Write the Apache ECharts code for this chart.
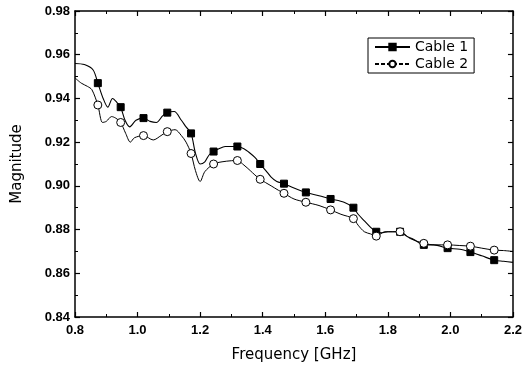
<!DOCTYPE html>
<html>
<head>
<meta charset="utf-8">
<script src="https://cdn.jsdelivr.net/npm/echarts@6/dist/echarts.min.js"></script>
<style>html,body{margin:0;padding:0;background:#fff}#c{width:525px;height:368px}</style>
</head>
<body>
<div id="c"></div>
<script>
const xTicks = [0.8, 1.0, 1.2, 1.4, 1.6, 1.8, 2.0, 2.2];
const yTicks = [0.84, 0.86, 0.88, 0.90, 0.92, 0.94, 0.96, 0.98];
const markerFreq = [0.873, 0.946, 1.019, 1.095, 1.171, 1.243, 1.319, 1.392, 1.468, 1.538, 1.617, 1.69, 1.763, 1.839, 1.915, 1.991, 2.064, 2.14];

const cable1Freq = [0.80,0.83,0.858,0.873,0.89,0.905,0.92,0.935,0.946,0.96,0.975,0.995,1.019,1.04,1.06,1.08,1.095,1.117,1.14,1.155,1.171,1.185,1.20,1.215,1.228,1.243,1.26,1.28,1.30,1.319,1.34,1.355,1.375,1.392,1.41,1.427,1.445,1.468,1.50,1.538,1.58,1.617,1.66,1.69,1.705,1.725,1.745,1.763,1.78,1.80,1.839,1.86,1.883,1.915,1.947,1.991,2.03,2.064,2.10,2.14,2.17,2.20];
const cable1Mag = [0.956,0.9555,0.953,0.947,0.940,0.936,0.940,0.938,0.936,0.930,0.927,0.930,0.931,0.9295,0.929,0.932,0.9335,0.934,0.930,0.927,0.924,0.915,0.910,0.911,0.914,0.9157,0.917,0.918,0.918,0.918,0.917,0.9155,0.913,0.910,0.907,0.904,0.902,0.901,0.899,0.897,0.8955,0.894,0.8925,0.890,0.887,0.884,0.881,0.879,0.8785,0.879,0.879,0.877,0.8755,0.873,0.873,0.8715,0.871,0.8697,0.868,0.866,0.8655,0.865];

const cable2Freq = [0.80,0.82,0.84,0.854,0.873,0.888,0.90,0.917,0.93,0.946,0.962,0.977,0.99,1.019,1.05,1.075,1.095,1.12,1.14,1.155,1.171,1.185,1.20,1.215,1.243,1.27,1.30,1.319,1.34,1.36,1.375,1.392,1.427,1.45,1.468,1.50,1.538,1.58,1.617,1.65,1.69,1.705,1.725,1.745,1.763,1.79,1.839,1.87,1.915,1.95,1.991,2.03,2.064,2.10,2.14,2.17,2.20];
const cable2Mag = [0.9494,0.947,0.9455,0.944,0.937,0.929,0.9295,0.9317,0.931,0.929,0.924,0.920,0.922,0.923,0.921,0.923,0.9248,0.9257,0.923,0.920,0.9148,0.907,0.902,0.9065,0.910,0.911,0.9115,0.9116,0.9095,0.907,0.905,0.903,0.900,0.898,0.8966,0.894,0.8925,0.891,0.889,0.887,0.885,0.882,0.879,0.878,0.877,0.879,0.879,0.876,0.8737,0.873,0.873,0.8727,0.8724,0.8715,0.8706,0.8704,0.870];

function build(freq, mag) {
  return freq.map((f, i) => {
    const isM = markerFreq.some(m => Math.abs(m - f) < 1e-6);
    return isM ? { value: [f, mag[i]] } : { value: [f, mag[i]], symbol: 'none' };
  });
}

const font = 'Liberation Sans, Arial, sans-serif';
const wide = 'DejaVu Sans, sans-serif';
const chart = echarts.init(document.getElementById('c'), null, { renderer: 'canvas' });

const baseX = {
  type: 'value', min: 0.8, max: 2.2, interval: 0.2,
  axisLine: { show: true, onZero: false, lineStyle: { color: '#000', width: 1.5 } },
  axisTick: { show: true, inside: true, length: 5, lineStyle: { color: '#000', width: 1.2 } },
  minorTick: { show: true, splitNumber: 2, length: 3, lineStyle: { color: '#000', width: 1 } },
  splitLine: { show: false }
};
const baseY = {
  type: 'value', min: 0.84, max: 0.98, interval: 0.02,
  axisLine: { show: true, onZero: false, lineStyle: { color: '#000', width: 1.5 } },
  axisTick: { show: true, inside: true, length: 5, lineStyle: { color: '#000', width: 1.2 } },
  minorTick: { show: true, splitNumber: 2, length: 3, lineStyle: { color: '#000', width: 1 } },
  splitLine: { show: false }
};

chart.setOption({
  animation: false,
  backgroundColor: '#fff',
  grid: { left: 75, right: 8, top: 11, bottom: 50, containLabel: false },
  xAxis: [
    Object.assign({}, baseX, {
      position: 'bottom',
      name: 'Frequency [GHz]', nameLocation: 'middle', nameGap: 31,
      nameTextStyle: { fontFamily: wide, fontSize: 15, color: '#000' },
      axisLabel: { show: true, margin: 7, fontFamily: font, fontSize: 13, fontWeight: 'bold', color: '#000',
        formatter: v => v.toFixed(1) }
    }),
    Object.assign({}, baseX, { position: 'top', axisLabel: { show: false } })
  ],
  yAxis: [
    Object.assign({}, baseY, {
      position: 'left',
      name: 'Magnitude', nameLocation: 'middle', nameGap: 50, nameRotate: 90,
      nameTextStyle: { fontFamily: wide, fontSize: 15, color: '#000' },
      axisLabel: { show: true, margin: 5, fontFamily: font, fontSize: 13, fontWeight: 'bold', color: '#000',
        formatter: v => v.toFixed(2) }
    }),
    Object.assign({}, baseY, { position: 'right', axisLabel: { show: false } })
  ],
  legend: {
    orient: 'vertical', left: 368, top: 38,
    itemWidth: 35, itemHeight: 8, itemGap: 3,
    padding: [2, 6, 2, 6],
    borderColor: '#000', borderWidth: 1, borderRadius: 0,
    backgroundColor: '#fff',
    textStyle: { fontFamily: wide, fontSize: 14, color: '#000' },
    data: [
      { name: 'Cable 1' },
      { name: 'Cable 2', lineStyle: { type: [4, 2] } }
    ]
  },
  series: [
    {
      name: 'Cable 1', type: 'line', xAxisIndex: 0, yAxisIndex: 0,
      data: build(cable1Freq, cable1Mag),
      smooth: 0.3,
      symbol: 'rect', symbolSize: 7, showAllSymbol: true,
      lineStyle: { color: '#000', width: 1.1 },
      itemStyle: { color: '#000', borderColor: '#000', borderWidth: 1 },
      z: 2
    },
    {
      name: 'Cable 2', type: 'line', xAxisIndex: 0, yAxisIndex: 0,
      data: build(cable2Freq, cable2Mag),
      smooth: 0.3,
      symbol: 'circle', symbolSize: 8, showAllSymbol: true,
      lineStyle: { color: '#000', width: 1 },
      itemStyle: { color: '#fff', borderColor: '#000', borderWidth: 1 },
      z: 3
    }
  ]
});
</script>
</body>
</html>
